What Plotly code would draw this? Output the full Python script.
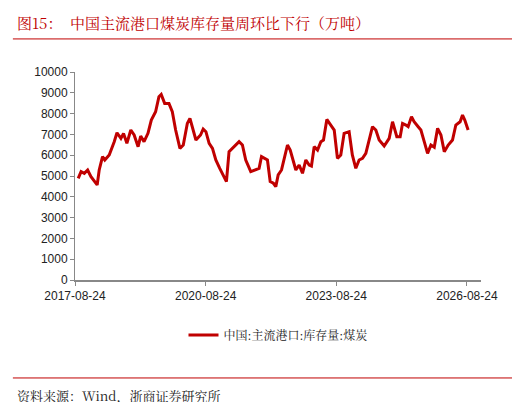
import plotly.graph_objects as go

dates = ["2017-09-20","2017-10-14","2017-11-10","2017-12-08","2018-01-05","2018-02-02","2018-02-26","2018-03-15","2018-04-12","2018-05-01",
"2018-06-07","2018-07-19","2018-08-11","2018-09-13","2018-10-05","2018-11-02","2018-12-05","2019-01-02","2019-02-04","2019-02-26",
"2019-03-26","2019-04-28","2019-05-26","2019-07-01","2019-07-29","2019-08-17","2019-09-15","2019-10-21","2019-11-18","2019-12-16",
"2020-01-21","2020-02-18","2020-03-23","2020-04-14","2020-05-06","2020-06-03","2020-07-12","2020-08-03","2020-08-26","2020-09-22",
"2020-10-20","2020-11-17","2020-12-20","2021-01-20","2021-02-14","2021-03-08","2021-04-05","2021-05-03","2021-05-31","2021-06-28",
"2021-07-26","2021-09-06","2021-10-04","2021-11-15","2021-12-05","2021-12-27","2022-01-24","2022-02-16","2022-03-15","2022-04-04",
"2022-04-24","2022-05-22","2022-06-19","2022-07-11","2022-08-03","2022-08-31","2022-09-19","2022-10-17","2022-11-14","2022-12-12",
"2023-01-09","2023-01-28","2023-02-20","2023-03-20","2023-04-17","2023-05-09","2023-06-06","2023-07-09","2023-08-07","2023-09-03",
"2023-10-01","2023-10-29","2023-12-10","2024-01-06","2024-02-04","2024-03-03","2024-03-31","2024-04-28","2024-05-26","2024-06-23",
"2024-07-21","2024-08-18","2024-09-29","2024-11-10","2024-12-08","2024-12-22","2025-01-13","2025-02-10","2025-03-02","2025-03-30",
"2025-04-18","2025-05-16","2025-06-07","2025-07-11","2025-08-03","2025-08-31","2025-09-28","2025-10-26","2025-11-23","2025-12-21",
"2026-01-18","2026-02-15","2026-03-20","2026-04-25","2026-05-23","2026-06-28","2026-07-18","2026-08-06","2026-09-03"]
stock = [4890,5210,5130,5290,4970,4730,4570,5290,5930,5770,
6010,6650,7080,6810,7050,6570,7210,6970,6410,6920,
6650,7050,7690,8090,8810,8920,8490,8490,8090,7210,
6330,6490,7530,7770,7290,6730,6970,7260,7130,6570,
6330,5770,5370,5050,4730,6170,6330,6440,6650,6490,
5770,5210,5290,5370,5930,5850,5770,4730,4650,4490,
5050,5290,5930,6490,6250,5610,5290,5530,5130,5770,
5530,5480,6410,6250,6650,6730,7720,7450,7210,5850,
6010,7050,7130,6010,5370,5770,5850,6090,6730,7370,
7210,6730,6440,6810,7610,7370,6890,6890,7530,7450,
7370,7850,7610,7370,7210,6650,6090,6490,6380,7290,
6970,6170,6490,6730,7450,7610,7930,7690,7210]
tick_vals = ["2017-08-24","2020-08-24","2023-08-24","2026-08-24"]
series_name = "中国:主流港口:库存量:煤炭"
title = "图15：  中国主流港口煤炭库存量周环比下行（万吨）"
source = "资料来源：Wind，浙商证券研究所"

red = "#C00000"
font = "Noto Sans CJK SC"
serif = "Noto Serif CJK SC, " + font
fig = go.Figure(go.Scatter(x=dates, y=stock, mode="lines", name=series_name,
                           line=dict(color=red, width=3)))
fig.update_layout(
    width=520, height=402, margin=dict(l=67, r=47, t=64, b=130),
    paper_bgcolor="white", plot_bgcolor="white",
    font=dict(family=font, size=12, color="#222"),
    showlegend=True,
    legend=dict(orientation="h", x=0.5, xanchor="center", y=-0.264, yanchor="middle",
                font=dict(size=12, family=serif)),
    xaxis=dict(type="date", range=["2017-08-24", "2026-12-20"], tickvals=tick_vals,
               ticktext=tick_vals, showgrid=False, showline=True, linecolor="#888",
               linewidth=2, ticks="outside", tickcolor="#888", ticklen=4,
               tickfont=dict(family="Liberation Sans, Arial", size=12)),
    yaxis=dict(range=[0, 10000], dtick=1000, tickformat="d", showgrid=False, showline=True,
               linecolor="#888", linewidth=1, ticks="outside", tickcolor="#888", ticklen=4,
               tickfont=dict(family="Liberation Sans, Arial", size=12)),
    annotations=[
        dict(text=title, xref="paper", yref="paper", x=-0.148, y=1.236, xanchor="left", yanchor="middle",
             showarrow=False, font=dict(color=red, size=15, family=serif)),
        dict(text=source, xref="paper", yref="paper", x=-0.148, y=-0.553, xanchor="left", yanchor="middle",
             showarrow=False, font=dict(color="#222", size=13, family=serif)),
    ],
    shapes=[
        dict(type="line", xref="paper", yref="paper", x0=-0.153, x1=1.101, y0=1.159, y1=1.159,
             line=dict(color=red, width=1)),
        dict(type="line", xref="paper", yref="paper", x0=-0.153, x1=1.101, y0=-0.471, y1=-0.471,
             line=dict(color=red, width=1)),
    ],
)
fig.write_html("out.html")
